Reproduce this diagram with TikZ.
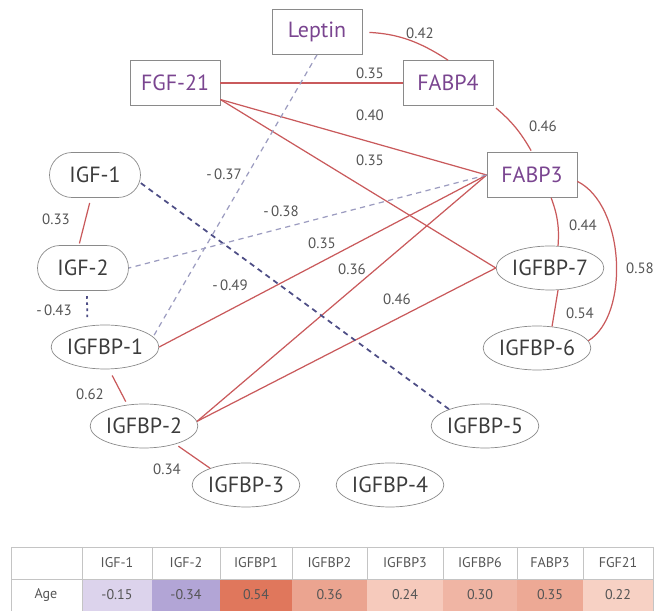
\documentclass[tikz,border=0pt]{standalone}
\usepackage{fontspec}
\setmainfont{PT Sans}
\usepackage{tikz}
\usetikzlibrary{shapes.geometric,positioning}
\definecolor{framegray}{HTML}{8A8A8A}
\definecolor{nodetxt}{HTML}{3C3C3C}
\definecolor{hormone}{HTML}{7A4590}
\definecolor{poscol}{HTML}{C95A5C}
\definecolor{negcol}{HTML}{4E4E86}
\definecolor{lightneg}{HTML}{9C9CC0}
\definecolor{corrtxt}{HTML}{555555}
\definecolor{gridcol}{HTML}{C4C4C4}
\definecolor{cA}{HTML}{DCD3EC}
\definecolor{cB}{HTML}{B2A5D6}
\definecolor{cC}{HTML}{E0775C}
\definecolor{cD}{HTML}{EBA490}
\definecolor{cE}{HTML}{F6CABC}
\definecolor{cF}{HTML}{F0B5A4}
\definecolor{cG}{HTML}{EDA995}
\definecolor{cH}{HTML}{F7D1C4}

\tikzset{
  factor/.style={draw=framegray, rectangle, minimum width=1.8cm, minimum height=0.9cm,
    text=hormone, font=\fontsize{12.5}{14}\selectfont},
  igf/.style={draw=framegray, rectangle, rounded corners=0.45cm, minimum width=1.82cm,
    minimum height=0.9cm, text=nodetxt, font=\fontsize{12.5}{14}\selectfont},
  bp/.style={draw=framegray, ellipse, inner sep=0pt, minimum width=2.1cm,
    minimum height=0.88cm, text=nodetxt, font=\fontsize{12.5}{14}\selectfont},
  posline/.style={draw=poscol, line width=0.7pt},
  negline/.style={draw=negcol, dash pattern=on 3pt off 2.5pt, line width=1pt},
  faintline/.style={draw=lightneg, dash pattern=on 3pt off 2.5pt, line width=0.7pt},
  dotline/.style={draw=negcol, dash pattern=on 1.5pt off 2pt, line width=1pt},
  corr/.style={text=corrtxt, font=\fontsize{8.5}{10}\selectfont, inner sep=1pt},
  tabtxt/.style={text=corrtxt, font=\fontsize{8}{9}\selectfont, inner sep=1pt}
}

\begin{document}
\begin{tikzpicture}[x=0.02cm, y=-0.02cm]
  \useasboundingbox (0,0) rectangle (657,611);

  % hormones
  \node[factor] (lep) at (317,32) {Leptin};
  \node[factor] (fgf) at (175,83) {FGF-21};
  \node[factor] (fabp4) at (448,83) {FABP4};
  \node[factor] (fabp3) at (532,175) {FABP3};

  % IGF axis
  \node[igf] (igf1) at (95,175) {IGF-1};
  \node[igf] (igf2) at (83,268) {IGF-2};
  \node[bp] (bp1) at (105,347) {IGFBP-1};
  \node[bp] (bp2) at (144,426) {IGFBP-2};
  \node[bp] (bp3) at (246,485) {IGFBP-3};
  \node[bp] (bp4) at (390,485) {IGFBP-4};
  \node[bp] (bp5) at (485,426) {IGFBP-5};
  \node[bp] (bp7) at (550,268) {IGFBP-7};
  \node[bp] (bp6) at (537,348) {IGFBP-6};

  % positive correlations
  \draw[posline, shorten <=4pt] (lep.east) to[bend left=15] (fabp4.north);
  \draw[posline] (fgf.east) -- (fabp4.west);
  \draw[posline] (fgf.-20) -- (fabp3.west);
  \draw[posline] (fgf.-20) -- (bp7.west);
  \draw[posline, shorten <=2pt, shorten >=1pt] (fabp4.south east) to[bend left=10] (fabp3.north);
  \draw[posline] (fabp3.-50) to[bend left=12] (bp7.70);
  \draw[posline] (bp7.-70) -- (bp6.55);
  \draw[posline] (fabp3.-8) .. controls (625,205) and (630,315) .. (bp6.8);
  \draw[posline] (fabp3.west) -- (bp1.east);
  \draw[posline] (fabp3.west) -- (bp2.5);
  \draw[posline] (bp7.west) -- (bp2.5);
  \draw[posline, shorten <=3pt, shorten >=1pt] (igf1.-100) -- (igf2.100);
  \draw[posline, shorten <=4pt, shorten >=2pt] (bp1.-80) -- (bp2.128);
  \draw[posline, shorten <=2pt] (bp2.-30) -- (bp3.155);

  % negative correlations
  \draw[negline] (igf1.-10) -- (bp5.155);
  \draw[faintline] (lep.south) -- (bp1.12);
  \draw[faintline] (fabp3.west) -- (igf2.east);
  \draw[dotline, shorten <=3pt, shorten >=5pt] (igf2.-80) -- (bp1.130);

  % coefficients
  \node[corr] (c1) at (420,33) {0.42};
  \node[corr] (c2) at (370,73) {0.35};
  \node[corr] (c3) at (370,115) {0.40};
  \node[corr] (c4) at (370,160) {0.35};
  \node[corr] (c5) at (543,126) {0.46};
  \node[corr] (c6) at (224,174) {-\,0.37};
  \node[corr] (c7) at (281,211) {-\,0.38};
  \node[corr] (c8) at (56,219) {0.33};
  \node[corr] (c9) at (54,310) {-\,0.43};
  \node[corr] (c10) at (230,285) {-\,0.49};
  \node[corr] (c11) at (322,243) {0.35};
  \node[corr] (c12) at (352,269) {0.36};
  \node[corr] (c13) at (397,299) {0.46};
  \node[corr] (c14) at (583,225) {0.44};
  \node[corr] (c15) at (640,268) {0.58};
  \node[corr] (c16) at (580,313) {0.54};
  \node[corr] (c17) at (90,394) {0.62};
  \node[corr] (c18) at (167,469) {0.34};

  % age table
  \foreach \xl/\xr/\head/\val/\cell [count=\i] in
    {82/152/IGF-1/-0.15/cA, 152/220/IGF-2/-0.34/cB, 220/292/IGFBP1/0.54/cC,
     292/367/IGFBP2/0.36/cD, 367/443/IGFBP3/0.24/cE, 443/517/IGFBP6/0.30/cF,
     517/583/FABP3/0.35/cG, 583/653/FGF21/0.22/cH} {
    \fill[\cell] (\xl,579) rectangle (\xr,611);
    \draw[gridcol] (\xr,547) -- (\xr,611);
    \node[tabtxt] (h\i) at ({(\xl+\xr)/2},563) {\head};
    \node[tabtxt] (v\i) at ({(\xl+\xr)/2},595) {\val};
  }
  \draw[gridcol] (11,611) -- (11,547) -- (653,547);
  \draw[gridcol] (82,547) -- (82,611);
  \draw[gridcol] (11,579) -- (653,579);
  \node[tabtxt] (age) at (46,595) {Age};
\end{tikzpicture}
\end{document}
